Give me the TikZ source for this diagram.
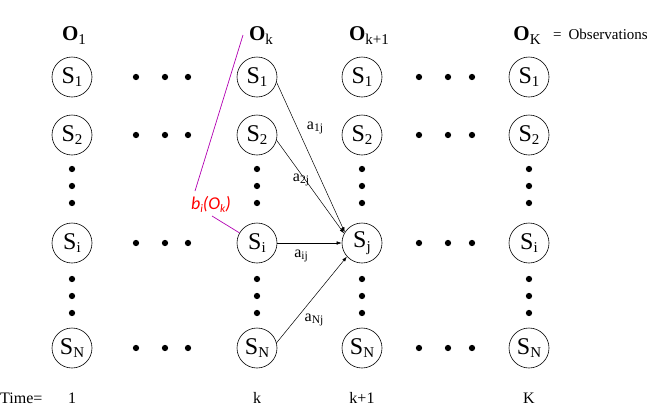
\documentclass[tikz,border=0pt]{standalone}
\usepackage{fontspec}
\setmainfont{Liberation Serif}
\newfontfamily\carl{Carlito}
\usetikzlibrary{arrows.meta}
\newcommand{\sub}[2][3.5pt]{{\fontsize{15}{15}\selectfont\raisebox{-#1}{#2}}}
\newcommand{\ssub}[2][2.5pt]{{\fontsize{11.5}{11.5}\selectfont\raisebox{-#1}{#2}}}
\begin{document}
\begin{tikzpicture}[x=1pt,y=-1pt,
  st/.style={circle,draw,line width=0.6pt,minimum size=40pt,inner sep=0pt,font=\fontsize{24}{24}\selectfont},
  obs/.style={font=\bfseries\fontsize{21}{21}\selectfont,inner sep=0pt},
  dot/.style={circle,fill,inner sep=0pt,minimum size=6.3pt},
  lbl/.style={font=\fontsize{16}{16}\selectfont,inner sep=0pt},
  tm/.style={font=\fontsize{16}{16}\selectfont,inner sep=0pt},
  tr/.style={-{Latex[length=5pt,width=3.5pt]},line width=0.5pt},
  pur/.style={draw=violet!60!magenta,line width=0.7pt}]
\useasboundingbox (0,0) rectangle (656,413);
% observations
\node[obs] (o1) at (74,36) {O\sub[4pt]{\mdseries 1}};
\node[obs] (ok) at (261,36) {O\sub[4pt]{\mdseries k}};
\node[obs] (ok1) at (369,36) {O\sub[4pt]{\mdseries k+1}};
\node[obs] (oK) at (527,36) {O\sub[4pt]{\mdseries K}};
\node[font=\fontsize{15}{15}\selectfont,anchor=west,inner sep=0pt] (obsl) at (553,34) {=\hspace{7pt}Observations};
% states
\foreach \c/\x in {a/72,k/257,m/362,z/529}{
  \node[st] (\c1) at (\x,77) {S\sub{1}};
  \node[st] (\c2) at (\x,135) {S\sub{2}};
  \node[st] (\c N) at (\x,348) {S\sub{N}};
  \foreach \y in {169,186,203,279,296,313}{\node[dot] (d\c\y) at (\x,\y) {};}
}
\node[st] (ai) at (72,243) {S\sub{i}};
\node[st] (ki) at (257,243) {S\sub{i}};
\node[st] (mj) at (362,243) {S\sub{j}};
\node[st] (zi) at (529,243) {S\sub{i}};
% horizontal dots
\foreach \y in {77,135,243,348}{
  \foreach \x in {136,165,188,419,448,472}{\node[dot] (h\x\y) at (\x,\y) {};}
}
% transitions
\draw[tr] (k1.-15) -- (mj.148);
\draw[tr] (k2.-15) -- (mj.152);
\draw[tr] (ki.east) -- (mj.west);
\draw[tr] (kN.15) -- (mj.222);
\node[lbl] (l1) at (315,128) {a\ssub{1j}};
\node[lbl] (l2) at (301,180) {a\ssub{2j}};
\node[lbl] (l3) at (301,256) {a\ssub{ij}};
\node[lbl] (l4) at (314,320) {a\ssub{Nj}};
% emission
\node[font=\carl\itshape\fontsize{18}{18}\selectfont,text=red,inner sep=1pt] (b) at (211,204) {b\ssub[3pt]{i}(O\ssub[3pt]{k})};
\coordinate (bt) at (195,191);
\coordinate (oe) at (243,35);
\draw[pur] (bt) -- (oe);
\draw[pur] (212,216) -- (ki.150);
% time
\node[tm,anchor=west] (t0) at (0,398) {Time=};
\node[tm] (t1) at (72,398) {1};
\node[tm] (tk) at (257,398) {k};
\node[tm] (tk1) at (362,398) {k+1};
\node[tm] (tK) at (529,398) {K};
\end{tikzpicture}
\end{document}
